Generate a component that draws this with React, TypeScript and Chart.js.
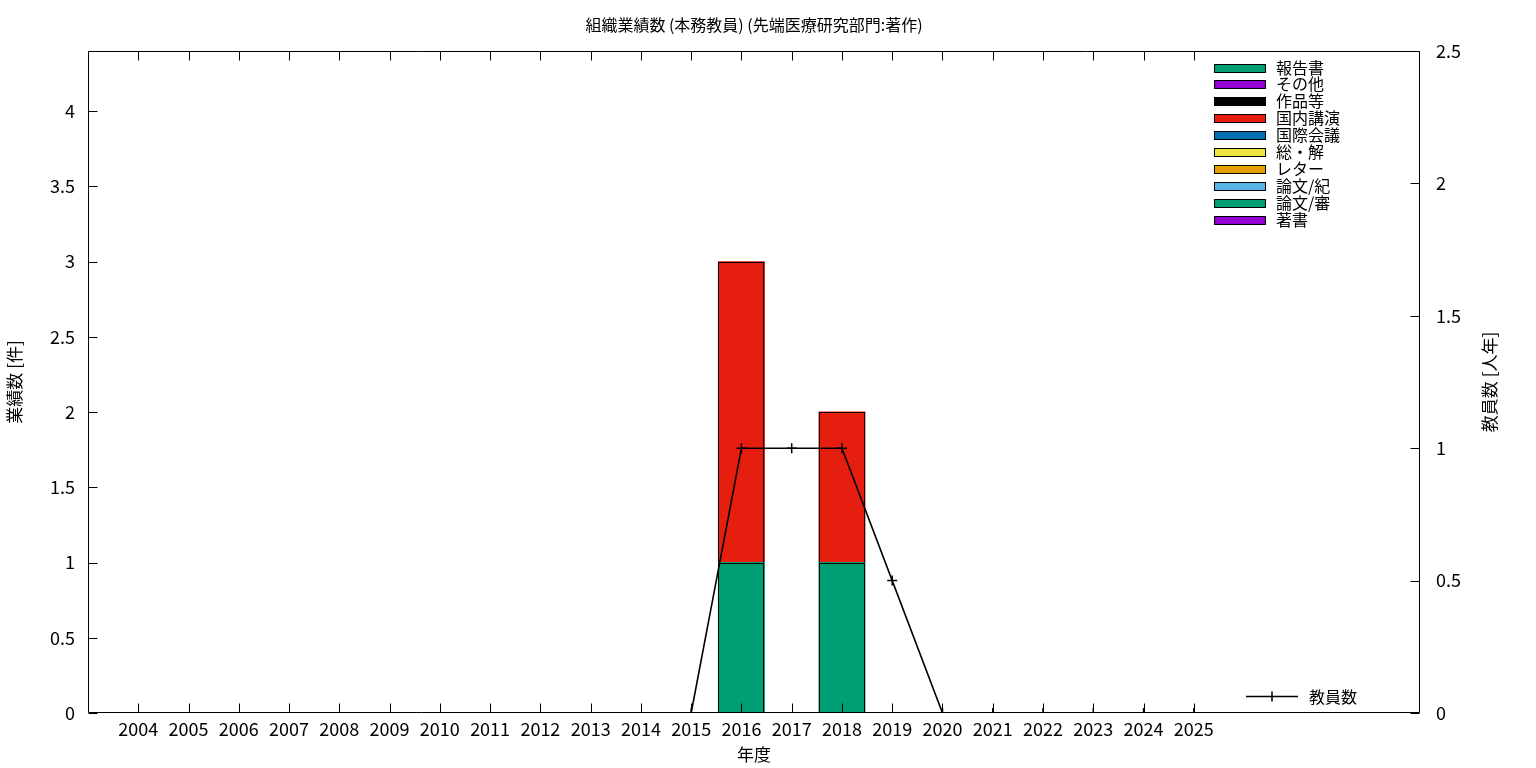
import React, { useEffect, useRef } from 'react';
import { Chart, registerables } from 'chart.js';

Chart.register(...registerables);

const FONT = '"Noto Sans CJK JP", "Noto Sans", sans-serif';

const titleText = '組織業績数 (本務教員) (先端医療研究部門:著作)';
const xTitle = '年度';
const yTitle = '業績数 [件]';
const y2Title = '教員数 [人年]';

const years = [2004, 2005, 2006, 2007, 2008, 2009, 2010, 2011, 2012, 2013, 2014, 2015, 2016, 2017, 2018, 2019, 2020, 2021, 2022, 2023, 2024, 2025];

// stacking order: bottom first
const seriesNames = ['著書', '論文/審', '論文/紀', 'レター', '総・解', '国際会議', '国内講演', '作品等', 'その他', '報告書'];
const seriesColors = ['#9400d3', '#009e73', '#56b4e9', '#e69f00', '#f0e442', '#0072b2', '#e51e10', '#000000', '#9400d3', '#009e73'];

const chosho = [0, 0, 0, 0, 0, 0, 0, 0, 0, 0, 0, 0, 0, 0, 0, 0, 0, 0, 0, 0, 0, 0];
const ronbunShin = [0, 0, 0, 0, 0, 0, 0, 0, 0, 0, 0, 0, 1, 0, 1, 0, 0, 0, 0, 0, 0, 0];
const ronbunKi = [0, 0, 0, 0, 0, 0, 0, 0, 0, 0, 0, 0, 0, 0, 0, 0, 0, 0, 0, 0, 0, 0];
const letter = [0, 0, 0, 0, 0, 0, 0, 0, 0, 0, 0, 0, 0, 0, 0, 0, 0, 0, 0, 0, 0, 0];
const soukai = [0, 0, 0, 0, 0, 0, 0, 0, 0, 0, 0, 0, 0, 0, 0, 0, 0, 0, 0, 0, 0, 0];
const kokusaiKaigi = [0, 0, 0, 0, 0, 0, 0, 0, 0, 0, 0, 0, 0, 0, 0, 0, 0, 0, 0, 0, 0, 0];
const kokunaiKouen = [0, 0, 0, 0, 0, 0, 0, 0, 0, 0, 0, 0, 2, 0, 1, 0, 0, 0, 0, 0, 0, 0];
const sakuhin = [0, 0, 0, 0, 0, 0, 0, 0, 0, 0, 0, 0, 0, 0, 0, 0, 0, 0, 0, 0, 0, 0];
const sonota = [0, 0, 0, 0, 0, 0, 0, 0, 0, 0, 0, 0, 0, 0, 0, 0, 0, 0, 0, 0, 0, 0];
const houkokusho = [0, 0, 0, 0, 0, 0, 0, 0, 0, 0, 0, 0, 0, 0, 0, 0, 0, 0, 0, 0, 0, 0];

const seriesValues = [chosho, ronbunShin, ronbunKi, letter, soukai, kokusaiKaigi, kokunaiKouen, sakuhin, sonota, houkokusho];

const staffLabel = '教員数';
const staffYears = [2015, 2016, 2017, 2018, 2019, 2020, 2021, 2022, 2023, 2024, 2025];
const staffCount = [0, 1, 1, 1, 0.5, 0, 0, 0, 0, 0, 0];

const X_MIN = 2003;
const X_MAX = 2029.5;
const Y_MAX = 4.4;
const Y2_MAX = 2.5;

// crisp black outlines on the library-computed bar elements
const barOutlinePlugin = {
  id: 'barOutline',
  afterDatasetDraw(chart: any, args: any) {
    const meta = args.meta;
    if (meta.type !== 'bar') return;
    const { ctx } = chart;
    ctx.save();
    ctx.strokeStyle = '#000';
    ctx.lineWidth = 1;
    meta.data.forEach((el: any, i: number) => {
      const raw = chart.data.datasets[args.index].data[i];
      if (!raw || raw.y == null) return;
      const p = el.getProps(['x', 'y', 'base', 'width'], true);
      const l = Math.round(p.x - p.width / 2) + 0.5;
      const r = Math.round(p.x + p.width / 2) - 0.5;
      const t = Math.round(Math.min(p.y, p.base)) + 0.5;
      const b = Math.round(Math.max(p.y, p.base)) - 0.5;
      ctx.strokeRect(l, t, r - l, b - t);
    });
    ctx.restore();
  },
};

const framePlugin = {
  id: 'gnuFrame',
  afterDraw(chart: any) {
    const { ctx, chartArea: a, scales } = chart;
    ctx.save();
    ctx.strokeStyle = '#000';
    ctx.lineWidth = 1;
    const L = Math.round(a.left) + 0.5;
    const R = Math.round(a.right) - 0.5;
    const T = Math.round(a.top) + 0.5;
    const B = Math.round(a.bottom) - 0.5;
    ctx.beginPath();
    ctx.rect(L, T, R - L, B - T);
    const tl = 9;
    years.forEach((yr) => {
      const px = Math.round(scales.x.getPixelForValue(yr)) + 0.5;
      ctx.moveTo(px, B);
      ctx.lineTo(px, B - tl);
      ctx.moveTo(px, T);
      ctx.lineTo(px, T + tl);
    });
    scales.y.ticks.forEach((t: any) => {
      const py = Math.round(scales.y.getPixelForValue(t.value)) + 0.5;
      ctx.moveTo(L, py);
      ctx.lineTo(L + tl, py);
    });
    scales.y1.ticks.forEach((t: any) => {
      const py = Math.round(scales.y1.getPixelForValue(t.value)) + 0.5;
      ctx.moveTo(R, py);
      ctx.lineTo(R - tl, py);
    });
    ctx.stroke();

    ctx.fillStyle = '#000';
    ctx.textAlign = 'center';
    ctx.textBaseline = 'middle';
    ctx.font = `16px ${FONT}`;
    ctx.fillText(titleText, (a.left + a.right) / 2, 25);
    ctx.font = `17px ${FONT}`;
    ctx.fillText(xTitle, (a.left + a.right) / 2, 755);

    ctx.save();
    ctx.translate(15, (a.top + a.bottom) / 2);
    ctx.rotate(-Math.PI / 2);
    ctx.fillText(yTitle, 0, 0);
    ctx.restore();

    ctx.save();
    ctx.translate(1490, (a.top + a.bottom) / 2);
    ctx.rotate(-Math.PI / 2);
    ctx.fillText(y2Title, 0, 0);
    ctx.restore();

    // legend for bars (top-right), reversed order
    ctx.font = `16px ${FONT}`;
    ctx.textAlign = 'left';
    const n = seriesNames.length;
    for (let i = 0; i < n; i++) {
      const idx = n - 1 - i;
      const cy = 67.5 + i * 16.9;
      ctx.fillStyle = seriesColors[idx];
      ctx.fillRect(1214, Math.round(cy - 4), 51, 8);
      ctx.strokeStyle = '#000';
      ctx.strokeRect(1214.5, Math.round(cy - 4) + 0.5, 51, 8);
      ctx.fillStyle = '#000';
      ctx.fillText(seriesNames[idx], 1276, cy);
    }

    // legend for line (bottom-right)
    const ly = 696.5;
    ctx.lineWidth = 1.5;
    ctx.beginPath();
    ctx.moveTo(1246, ly);
    ctx.lineTo(1298, ly);
    ctx.moveTo(1272, ly - 5);
    ctx.lineTo(1272, ly + 5);
    ctx.stroke();
    ctx.fillText(staffLabel, 1309, ly);
    ctx.restore();
  },
};

export default function App() {
  const ref = useRef<HTMLCanvasElement | null>(null);

  useEffect(() => {
    if (!ref.current) return;
    const barSets = seriesNames.map((name, i) => ({
      type: 'bar' as const,
      label: name,
      data: years.map((yr, j) => ({ x: yr, y: seriesValues[i][j] === 0 ? null : seriesValues[i][j] })),
      backgroundColor: seriesColors[i],
      borderColor: '#000',
      borderWidth: 0,
      inflateAmount: 0.5,
      barPercentage: 0.915,
      categoryPercentage: 1,
      yAxisID: 'y',
      order: 1,
    }));
    const lineSet = {
      type: 'line' as const,
      label: staffLabel,
      data: staffYears.map((yr, j) => ({ x: yr, y: staffCount[j] })),
      borderColor: '#000',
      backgroundColor: '#000',
      borderWidth: 1.6,
      pointStyle: 'cross',
      pointRadius: 5,
      pointBorderWidth: 1.5,
      tension: 0,
      yAxisID: 'y1',
      order: 0,
    };
    const chart = new Chart(ref.current, {
      data: { datasets: [...barSets, lineSet] as any },
      options: {
        responsive: false,
        animation: false,
        layout: { padding: { top: 51, left: 0, right: 0, bottom: 0 } },
        plugins: {
          legend: { display: false },
          title: { display: false },
          tooltip: { enabled: false },
        },
        scales: {
          x: {
            type: 'linear',
            min: X_MIN,
            max: X_MAX,
            offset: false,
            stacked: true,
            grid: { display: false, drawTicks: false, offset: false },
            border: { display: false },
            afterFit: (s: any) => { s.height = 55; },
            ticks: {
              stepSize: 1,
              includeBounds: false,
              autoSkip: false,
              maxRotation: 0,
              padding: 5,
              color: '#000',
              font: { family: FONT, size: 18 },
              callback: (v: any) => (v >= 2004 && v <= 2025 ? String(v) : ''),
            },
          },
          y: {
            type: 'linear',
            position: 'left',
            min: 0,
            max: Y_MAX,
            stacked: true,
            grid: { display: false, drawTicks: false },
            border: { display: false },
            afterFit: (s: any) => { s.width = 88; },
            ticks: {
              stepSize: 0.5,
              includeBounds: false,
              padding: 13,
              color: '#000',
              font: { family: FONT, size: 18 },
              callback: (v: any) => String(v),
            },
          },
          y1: {
            type: 'linear',
            position: 'right',
            min: 0,
            max: Y2_MAX,
            grid: { display: false, drawTicks: false },
            border: { display: false },
            afterFit: (s: any) => { s.width = 116; },
            ticks: {
              stepSize: 0.5,
              padding: 16,
              color: '#000',
              font: { family: FONT, size: 18 },
              callback: (v: any) => String(v),
            },
          },
        },
      } as any,
      plugins: [barOutlinePlugin, framePlugin],
    });
    return () => chart.destroy();
  }, []);

  return (
    <div style={{ position: 'fixed', left: 0, top: 0, width: 1536, height: 768, background: '#fff' }}>
      <canvas ref={ref} width={1536} height={768} style={{ display: 'block' }} />
    </div>
  );
}
